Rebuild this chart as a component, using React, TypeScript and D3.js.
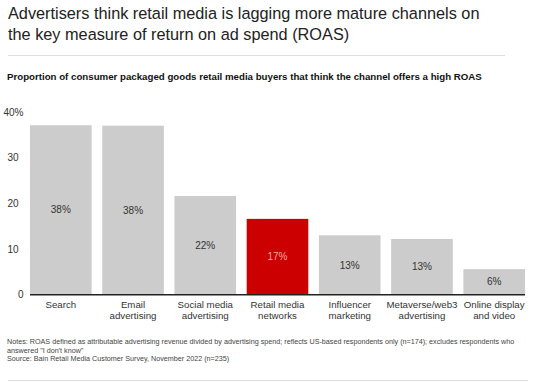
import React from 'react';
import * as d3 from 'd3';

const categories = [
  ['Search'],
  ['Email', 'advertising'],
  ['Social media', 'advertising'],
  ['Retail media', 'networks'],
  ['Influencer', 'marketing'],
  ['Metaverse/web3', 'advertising'],
  ['Online display', 'and video'],
];
const values = [37.1, 37.0, 21.6, 16.6, 13.0, 12.2, 5.6];
const valueLabels = ['38%', '38%', '22%', '17%', '13%', '13%', '6%'];
const highlight = [false, false, false, true, false, false, false];
const yTicks = [0, 10, 20, 30, 40];

const W = 542;
const H = 387;
const FONT = '"Liberation Sans", Arial, Helvetica, sans-serif';

export default function App() {
  const x = d3.scaleBand<number>()
    .domain(d3.range(values.length))
    .range([30, 525])
    .paddingInner(0.147)
    .paddingOuter(0);

  const y = d3.scaleLinear().domain([0, 40]).range([294.7, 112]);

  return (
    <svg width={W} height={H} style={{ position: 'absolute', left: 0, top: 0, background: '#fff' }} fontFamily={FONT}>
      {/* title */}
      <text x={8} y={18.5} fontSize={16.3} fill="#222">
        Advertisers think retail media is lagging more mature channels on
      </text>
      <text x={8} y={39.5} fontSize={16.3} fill="#222">
        the key measure of return on ad spend (ROAS)
      </text>
      <line x1={8} x2={505} y1={55.5} y2={55.5} stroke="#ddd" />

      <text x={7} y={80} fontSize={9.7} fontWeight="bold" fill="#111">
        Proportion of consumer packaged goods retail media buyers that think the channel offers a high ROAS
      </text>

      {/* y ticks */}
      {yTicks.map(t => (
        <text key={t} x={t === 0 || t === 40 ? 23.5 : 18.5} y={y(t)} dy="0.35em" fontSize={10} fill="#333" textAnchor="end">
          {t === 40 ? `${t}%` : t}
        </text>
      ))}

      {/* bars */}
      {values.map((v, i) => (
        <g key={i}>
          <rect
            x={x(i)}
            y={y(v)}
            width={x.bandwidth()}
            height={y(0) - y(v)}
            fill={highlight[i] ? '#cc0000' : '#cccccc'}
          />
          <text
            x={(x(i) || 0) + x.bandwidth() / 2}
            y={(y(v) + y(0)) / 2}
            dy="0.35em"
            textAnchor="middle"
            fontSize={10}
            fill={highlight[i] ? '#f5a6a6' : '#333'}
          >
            {valueLabels[i]}
          </text>
          {categories[i].map((ln, j) => (
            <text
              key={j}
              x={(x(i) || 0) + x.bandwidth() / 2}
              y={305 + j * 11}
              dy="0.35em"
              textAnchor="middle"
              fontSize={9.7}
              fill="#333"
            >
              {ln}
            </text>
          ))}
        </g>
      ))}
      <line x1={30} x2={525} y1={y(0)} y2={y(0)} stroke="#222" strokeWidth={1.5} />

      {/* notes */}
      <text x={7} y={341} dy="0.35em" fontSize={7.2} fill="#444">
        Notes: ROAS defined as attributable advertising revenue divided by advertising spend; reflects US-based respondents only (n=174); excludes respondents who
      </text>
      <text x={7} y={350} dy="0.35em" fontSize={7.2} fill="#444">
        answered "I don't know"
      </text>
      <text x={7} y={358.5} dy="0.35em" fontSize={7.2} fill="#444">
        Source: Bain Retail Media Customer Survey, November 2022 (n=235)
      </text>
      <line x1={8} x2={528} y1={380.5} y2={380.5} stroke="#ddd" />
    </svg>
  );
}
